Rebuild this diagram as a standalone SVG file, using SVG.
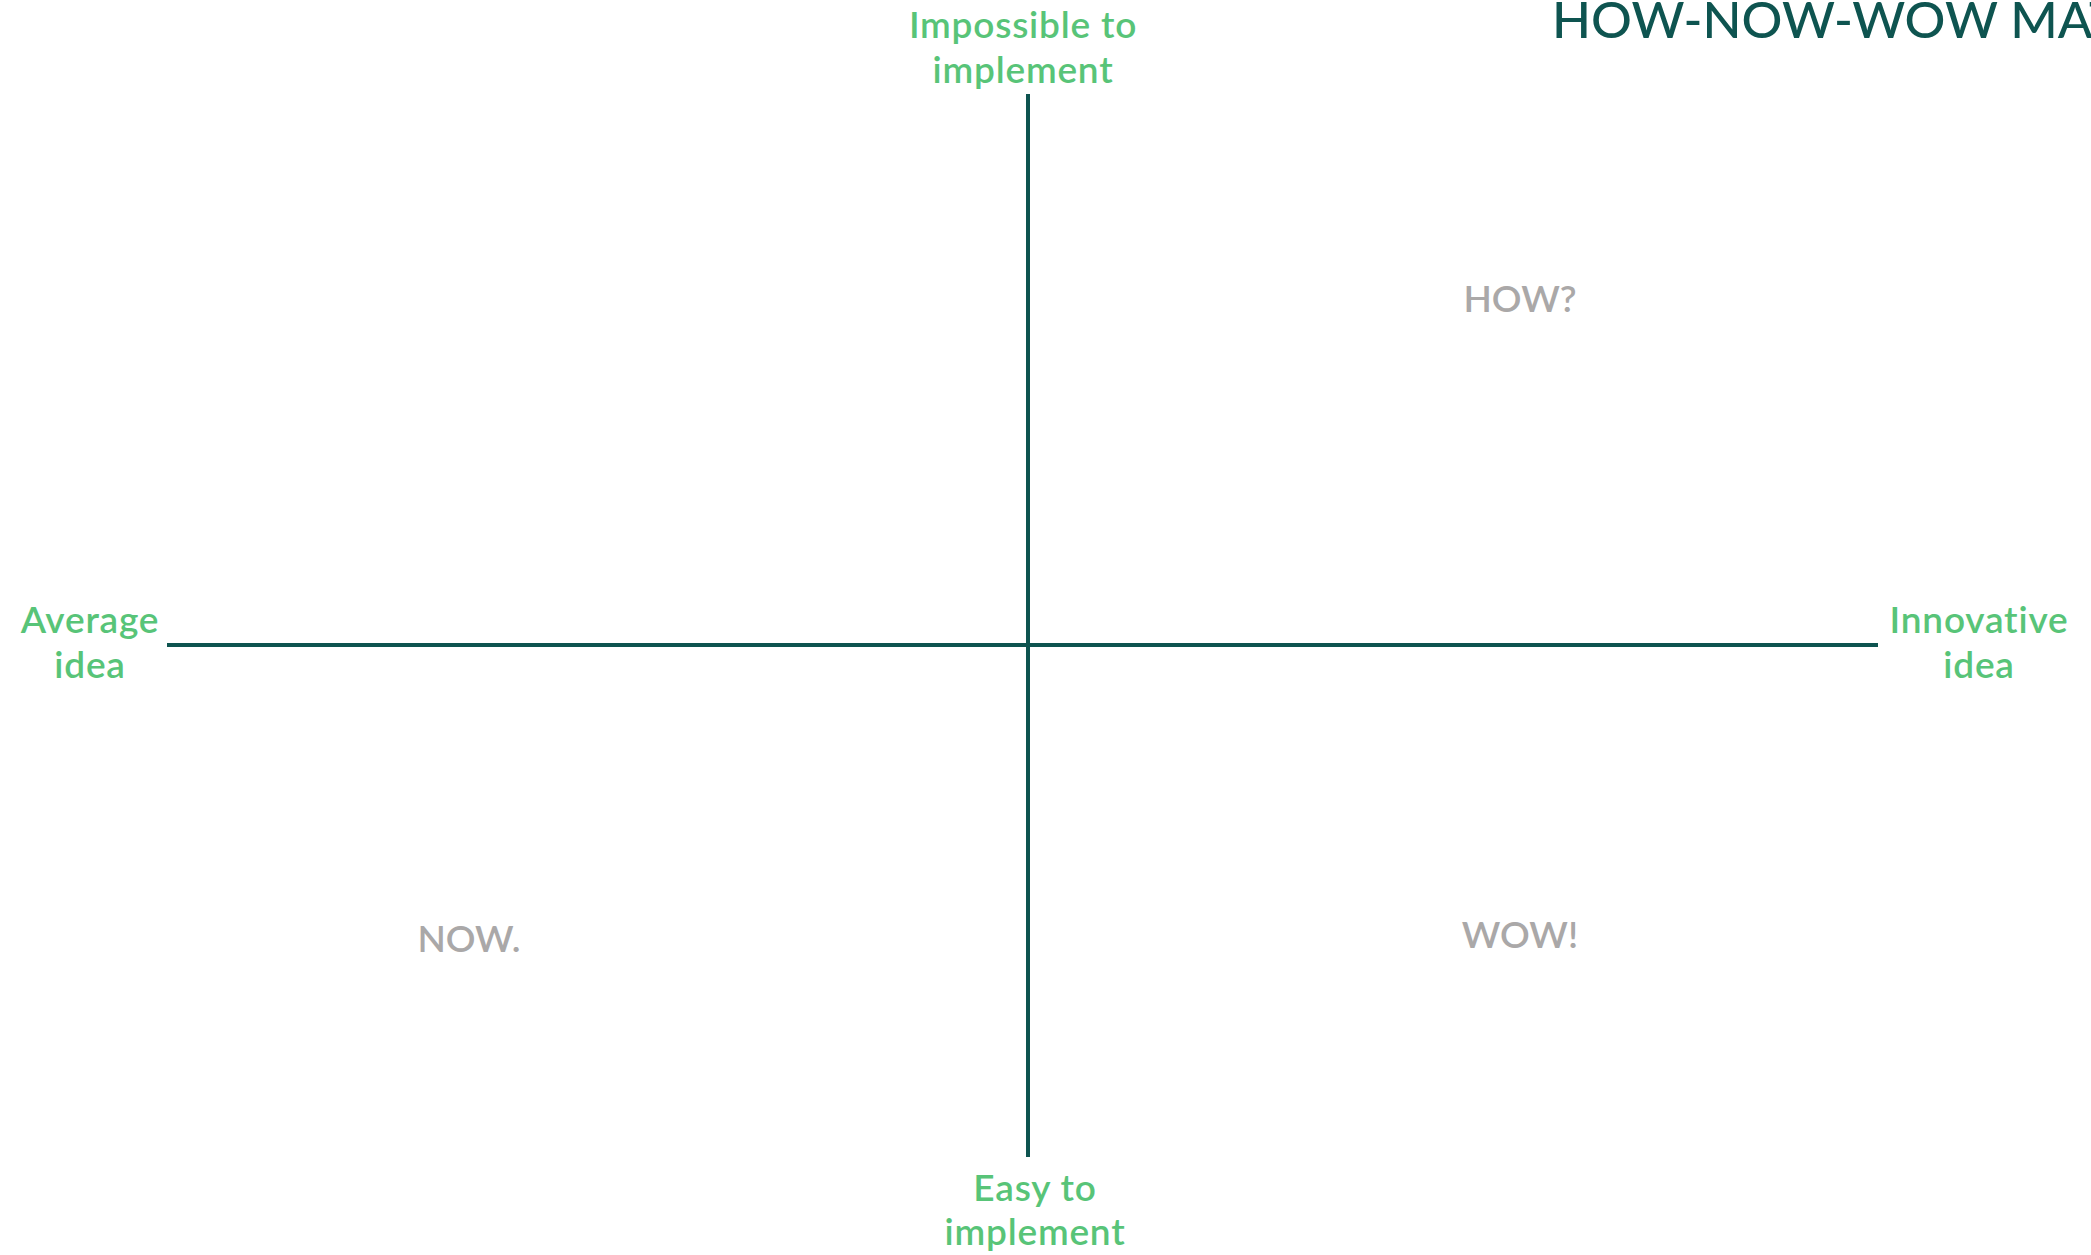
<svg xmlns="http://www.w3.org/2000/svg" width="2091" height="1255" viewBox="0 0 2091 1255">
<style>
.axis{font-family:Lato,"Open Sans","Liberation Sans",sans-serif;font-size:37px;fill:#58c478;text-anchor:middle;font-weight:600;letter-spacing:0.8px}
.quad{font-family:Lato,"Open Sans","Liberation Sans",sans-serif;font-size:37px;fill:#aaa8a8;text-anchor:middle;font-weight:600}
.title{font-family:Lato,"Open Sans","Liberation Sans",sans-serif;font-size:51px;fill:#0e5450;font-weight:500}
.line{stroke:#0e5450;stroke-width:4;fill:none}
</style>
<rect width="2091" height="1255" fill="#ffffff"/>
<g id="connectors">
<line class="line" x1="167" y1="645" x2="1878" y2="645"/>
<line class="line" x1="1028" y1="94" x2="1028" y2="1157"/>
</g>
<g id="title"><text class="title" x="1552" y="38">HOW-NOW-WOW MATRIX</text></g>
<g id="top"><text class="axis" x="1023" y="38">Impossible to</text><text class="axis" x="1023" y="83">implement</text></g>
<g id="bottom"><text class="axis" x="1035" y="1201">Easy to</text><text class="axis" x="1035" y="1245">implement</text></g>
<g id="left"><text class="axis" x="90" y="633">Average</text><text class="axis" x="90" y="678">idea</text></g>
<g id="right"><text class="axis" x="1979" y="633">Innovative</text><text class="axis" x="1979" y="678">idea</text></g>
<g id="how"><text class="quad" x="1520" y="312">HOW?</text></g>
<g id="now"><text class="quad" x="469" y="952">NOW.</text></g>
<g id="wow"><text class="quad" x="1520" y="948">WOW!</text></g>
</svg>
